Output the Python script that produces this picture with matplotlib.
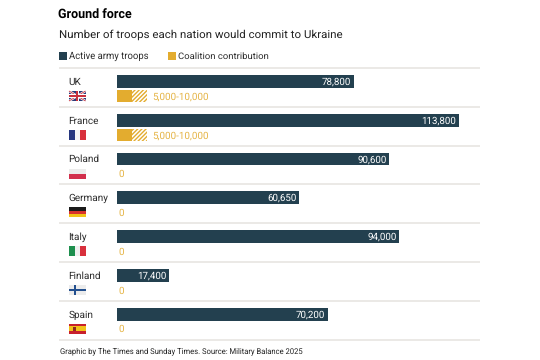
import matplotlib
matplotlib.use("Agg")
import matplotlib.pyplot as plt
from matplotlib.patches import Rectangle

plt.rcParams['font.family'] = ['Roboto', 'DejaVu Sans']
plt.rcParams['hatch.linewidth'] = 1.0
plt.rcParams['text.hinting'] = 'none'
plt.rcParams['text.hinting_factor'] = 8

countries = ["UK", "France", "Poland", "Germany", "Italy", "Finland", "Spain"]
troops = [78800, 113800, 90600, 60650, 94000, 17400, 70200]
coalition_low = [5000, 5000, 0, 0, 0, 0, 0]
coalition_high = [10000, 10000, 0, 0, 0, 0, 0]
coalition_labels = ["5,000-10,000", "5,000-10,000", "0", "0", "0", "0", "0"]

NAVY = "#23404f"
GOLD = "#e3ac2f"
W, H = 540, 360

fig = plt.figure(figsize=(W / 100, H / 100), dpi=100, facecolor="white")
bg = fig.add_axes([0, 0, 1, 1])
bg.set_xlim(0, W); bg.set_ylim(H, 0); bg.axis("off")

PX_PER = 342 / 113800
left, right = 117, 480
row0, row_h = 68.0, 38.8
ax = fig.add_axes([left / W, 1 - (row0 + 7 * row_h) / H, (right - left) / W, 7 * row_h / H])
ax.set_xlim(0, (right - left) / PX_PER)
ax.set_ylim(7, 0)
ax.axis("off"); ax.patch.set_alpha(0)

for i, (t, lo, hi, lab) in enumerate(zip(troops, coalition_low, coalition_high, coalition_labels)):
    ax.barh(i + 0.345, t, height=0.33, color=NAVY, linewidth=0)
    ax.annotate(f"{t:,}", (t, i + 0.345), xytext=(-2, -0.3), textcoords="offset points",
                ha="right", va="center", color="white", fontsize=7.0)
    if hi:
        ax.barh(i + 0.725, lo, height=0.32, color=GOLD, linewidth=0)
        ax.barh(i + 0.725, hi - lo, left=lo, height=0.32, facecolor="white", edgecolor=GOLD,
                hatch="////////", linewidth=0)
    ax.annotate(lab, (hi, i + 0.74), xytext=(3.4 if hi else 0.8, 0), textcoords="offset points",
                ha="left", va="center", color="#e5b445", fontsize=7.1)

for i in range(8):
    y = row0 + i * row_h
    bg.plot([59, 480], [y, y], color="#e9e7e4", lw=1.3, solid_capstyle="butt")

for i, c in enumerate(countries):
    bg.text(68.6, row0 + i * row_h + 14, c, ha="left", va="center", fontsize=7.2, color="#2c2c2c")

fx, fw, fh = 69, 16.5, 10
def rect(x, y, w, h, c, z=3):
    bg.add_patch(Rectangle((x, y), w, h, facecolor=c, linewidth=0, zorder=z))

def vflag(y, cols):
    for k, c in enumerate(cols):
        rect(fx + k * fw / 3, y, fw / 3, fh, c)

def hflag(y, cols):
    for k, c in enumerate(cols):
        rect(fx, y + k * fh / len(cols), fw, fh / len(cols), c)

def flag_y(i):
    return row0 + i * row_h + 23

y = flag_y(0)
rect(fx, y, fw, fh, "#2b3a78")
for a, b in (((fx, y), (fx + fw, y + fh)), ((fx, y + fh), (fx + fw, y))):
    bg.plot([a[0], b[0]], [a[1], b[1]], color="white", lw=1.6, zorder=4, solid_capstyle="butt")
    bg.plot([a[0], b[0]], [a[1], b[1]], color="#c8313e", lw=0.6, zorder=5, solid_capstyle="butt")
rect(fx, y + fh / 2 - 1.7, fw, 3.4, "white", 6)
rect(fx + fw / 2 - 1.7, y, 3.4, fh, "white", 6)
rect(fx, y + fh / 2 - 1, fw, 2, "#c8313e", 7)
rect(fx + fw / 2 - 1, y, 2, fh, "#c8313e", 7)

vflag(flag_y(1), ["#27377f", "#f4f4f4", "#d8303c"])
hflag(flag_y(2), ["#ececeb", "#d2304c"])
hflag(flag_y(3), ["#1a1a1a", "#d8322c", "#f2c318"])
vflag(flag_y(4), ["#1e8f4e", "#f0f0f0", "#d8303c"])
y = flag_y(5)
rect(fx, y, fw, fh, "#ececec")
rect(fx, y + fh / 2 - 1.3, fw, 2.6, "#23508f", 4)
rect(fx + 4.5, y, 2.6, fh, "#23508f", 4)
hflag(flag_y(6), ["#c8202c", "#f2c21a", "#f2c21a", "#c8202c"])
rect(fx + 3.5, flag_y(6) + 3, 3.5, 4, "#8f2a20", 5)

bg.text(58.5, 15, "Ground force", fontsize=9.0, fontweight="bold", color="black", ha="left", va="center")
bg.text(59, 34.5, "Number of troops each nation would commit to Ukraine", fontsize=8.25,
        color="#222222", ha="left", va="center")
rect(59, 52, 7.5, 8, NAVY)
bg.text(69, 56, "Active army troops", fontsize=6.85, color="#2c2c2c", ha="left", va="center")
rect(168, 52, 7.5, 8, GOLD)
bg.text(177.5, 56, "Coalition contribution", fontsize=6.8, color="#2c2c2c", ha="left", va="center")

bg.text(60, 351.5, "Graphic by The Times and Sunday Times. Source: Military Balance 2025", fontsize=5.5,
        color="#222222", ha="left", va="center")

fig.savefig("out.png", dpi=100)
